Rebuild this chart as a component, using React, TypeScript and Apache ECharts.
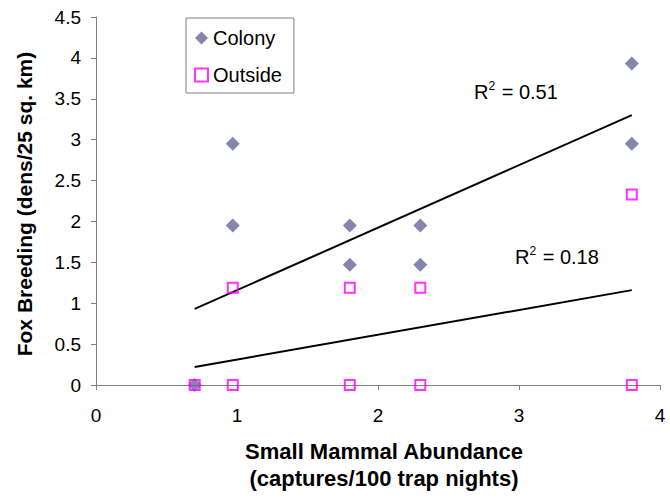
import React, { useEffect, useRef } from "react";
import * as echarts from "echarts";

const colonyX = [0.7, 0.97, 0.97, 1.8, 1.8, 2.3, 2.3, 3.8, 3.8];
const colonyY = [0, 2.95, 1.95, 1.95, 1.47, 1.95, 1.47, 3.93, 2.95];
const outsideX = [0.7, 0.97, 0.97, 1.8, 1.8, 2.3, 2.3, 3.8, 3.8];
const outsideY = [0, 1.19, 0, 1.19, 0, 1.19, 0, 2.33, 0];
const colonyTrendX = [0.7, 3.8];
const colonyTrendY = [0.93, 3.3];
const outsideTrendX = [0.7, 3.8];
const outsideTrendY = [0.22, 1.16];
const xTicks = [0, 1, 2, 3, 4];
const yTicks = [0, 0.5, 1, 1.5, 2, 2.5, 3, 3.5, 4, 4.5];

const FONT = "'Liberation Sans', Arial, sans-serif";

export default function App() {
  const ref = useRef<HTMLDivElement>(null);
  useEffect(() => {
    const chart = echarts.init(ref.current!, null, { renderer: "svg" });
    const zip = (xs: number[], ys: number[]) => xs.map((x, i) => [x, ys[i]]);
    const r2Rich = {
      r: { fontFamily: FONT, fontSize: 20, color: "#000", lineHeight: 22, verticalAlign: "bottom" },
      s: { fontFamily: FONT, fontSize: 12, color: "#000", lineHeight: 22, verticalAlign: "top", padding: [0, 1, 8, 0] },
    };
    chart.setOption({
      animation: false,
      backgroundColor: "#ffffff",
      textStyle: { fontFamily: FONT },
      grid: { left: 96, right: 10, top: 17, bottom: 114 },
      legend: {
        show: true,
        left: 186,
        top: 18,
        orient: "vertical",
        data: [
          { name: "Colony", icon: "diamond" },
          { name: "Outside", icon: "rect" },
        ],
        backgroundColor: "#fff",
        borderColor: "#808080",
        borderWidth: 1,
        padding: [10, 12, 8, 8],
        itemGap: 17,
        itemWidth: 13,
        itemHeight: 13,
        textStyle: { fontFamily: FONT, fontSize: 20, color: "#000", lineHeight: 20 },
      },
      xAxis: {
        type: "value",
        min: 0,
        max: 4,
        interval: 1,
        axisLine: { show: true, lineStyle: { color: "#808080", width: 1 } },
        axisTick: { show: true, inside: false, length: 5, lineStyle: { color: "#808080" } },
        splitLine: { show: false },
        axisLabel: { fontFamily: FONT, fontSize: 19, color: "#000", margin: 21,
          formatter: (v: number) => (xTicks.includes(v) ? String(v) : "") },
      },
      yAxis: {
        type: "value",
        min: 0,
        max: 4.5,
        interval: 0.5,
        axisLine: { show: true, lineStyle: { color: "#808080", width: 1 } },
        axisTick: { show: true, inside: false, length: 5, lineStyle: { color: "#808080" } },
        splitLine: { show: false },
        axisLabel: { fontFamily: FONT, fontSize: 19, color: "#000", margin: 15,
          formatter: (v: number) => (yTicks.includes(v) ? String(v) : "") },
      },
      graphic: [
        {
          type: "text",
          x: 24,
          y: 204,
          rotation: Math.PI / 2,
          style: {
            text: "Fox Breeding (dens/25 sq. km)",
            font: `bold 21px ${FONT}`,
            fill: "#000",
            align: "center",
            verticalAlign: "middle",
          },
        },
        {
          type: "text",
          x: 384,
          y: 451,
          style: {
            text: "Small Mammal Abundance",
            font: `bold 22px ${FONT}`,
            fill: "#000",
            align: "center",
            verticalAlign: "middle",
          },
        },
        {
          type: "text",
          x: 384,
          y: 478,
          style: {
            text: "(captures/100 trap nights)",
            font: `bold 22px ${FONT}`,
            fill: "#000",
            align: "center",
            verticalAlign: "middle",
          },
        },
        {
          type: "text",
          x: 474,
          y: 91,
          style: {
            text: "{r|R}{s|2}{r| = 0.51}",
            verticalAlign: "middle",
            rich: r2Rich,
          },
        },
        {
          type: "text",
          x: 515,
          y: 256,
          style: {
            text: "{r|R}{s|2}{r| = 0.18}",
            verticalAlign: "middle",
            rich: r2Rich,
          },
        },
      ],
      series: [
        {
          name: "Colony trend",
          type: "line",
          data: zip(colonyTrendX, colonyTrendY),
          showSymbol: false,
          symbol: "none",
          lineStyle: { color: "#000", width: 2 },
          silent: true,
          z: 1,
        },
        {
          name: "Outside trend",
          type: "line",
          data: zip(outsideTrendX, outsideTrendY),
          showSymbol: false,
          symbol: "none",
          lineStyle: { color: "#000", width: 2 },
          silent: true,
          z: 1,
        },
        {
          name: "Colony",
          type: "scatter",
          data: zip(colonyX, colonyY),
          symbol: "diamond",
          symbolSize: 14,
          itemStyle: { color: "#666699" },
          z: 3,
        },
        {
          name: "Outside",
          type: "scatter",
          data: zip(outsideX, outsideY),
          symbol: "rect",
          symbolSize: 10,
          itemStyle: { color: "rgba(255,255,255,0)", borderColor: "#FF00FF", borderWidth: 2 },
          z: 4,
        },
      ],
    });
    return () => chart.dispose();
  }, []);
  return (
    <div
      ref={ref}
      style={{ position: "absolute", left: 0, top: 0, width: 670, height: 499 }}
    />
  );
}
